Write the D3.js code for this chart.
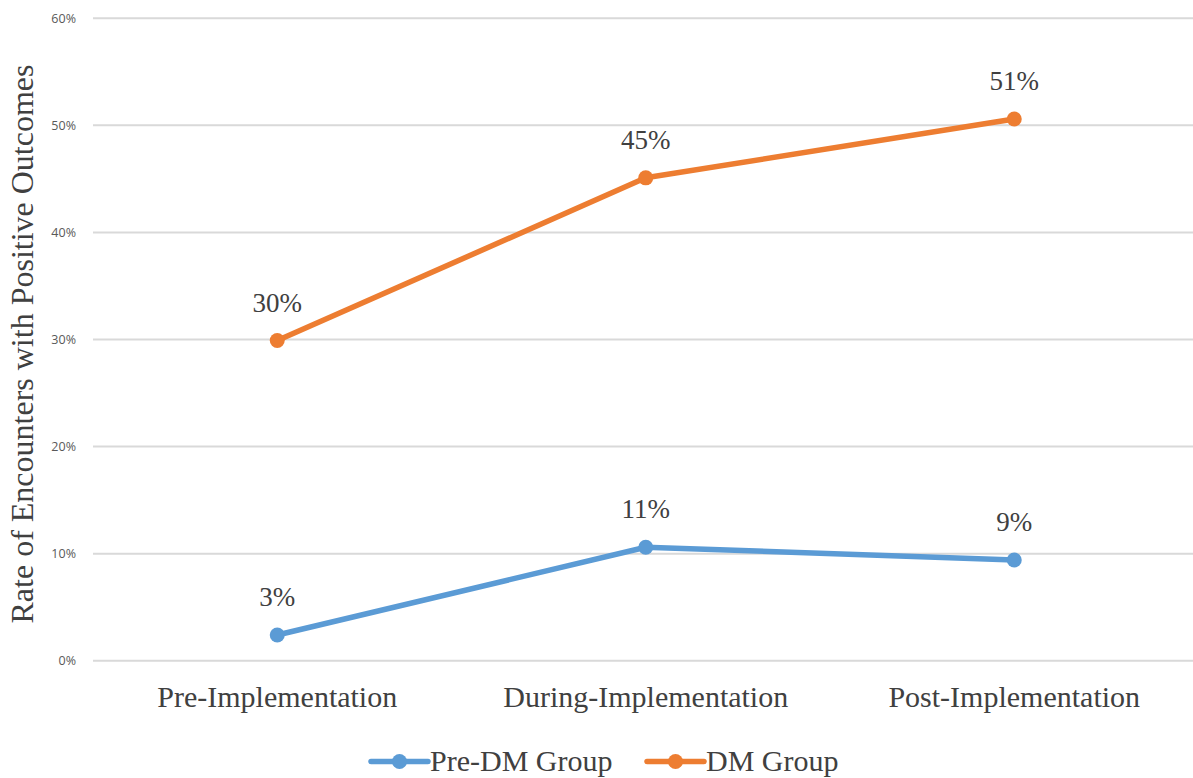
<!DOCTYPE html>
<html>
<head>
<meta charset="utf-8">
<script src="https://cdn.jsdelivr.net/npm/d3@7"></script>
<style>
  html, body { margin: 0; padding: 0; background: #fff; }
  svg { display: block; }
</style>
</head>
<body>
<script>
const categories = ["Pre-Implementation", "During-Implementation", "Post-Implementation"];
const preDM = [0.024, 0.106, 0.094];
const dmGroup = [0.299, 0.451, 0.506];
const preDMLabels = ["3%", "11%", "9%"];
const dmLabels = ["30%", "45%", "51%"];
const yTicks = [0, 0.1, 0.2, 0.3, 0.4, 0.5, 0.6];
const seriesNames = ["Pre-DM Group", "DM Group"];
const colors = ["#5b9bd5", "#ed7d31"];

const W = 1193, H = 778;
const svg = d3.select("body").append("svg").attr("width", W).attr("height", H);

const x = d3.scalePoint().domain(categories).range([93, 1198.5]).padding(0.5);
const y = d3.scaleLinear().domain([0, 0.6]).range([660.7, 18.3]);

const serif = "'Liberation Serif', 'Times New Roman', serif";
const textColor = "#404040";

// gridlines
svg.append("g").selectAll("line").data(yTicks).join("line")
  .attr("x1", 93).attr("x2", W)
  .attr("y1", d => y(d)).attr("y2", d => y(d))
  .attr("stroke", "#d9d9d9").attr("stroke-width", 2);

// y tick labels
svg.append("g").selectAll("text").data(yTicks).join("text")
  .attr("x", 76).attr("y", d => y(d)).attr("dy", "0.35em")
  .attr("text-anchor", "end")
  .attr("font-family", "'Open Sans', sans-serif").attr("font-size", 12.5)
  .attr("fill", "#595959")
  .text(d => d3.format(".0%")(d));

// y axis title
svg.append("text")
  .attr("transform", "translate(33,344) rotate(-90)")
  .attr("text-anchor", "middle")
  .attr("font-family", serif).attr("font-size", 32)
  .attr("fill", textColor)
  .text("Rate of Encounters with Positive Outcomes");

// x category labels
svg.append("g").selectAll("text").data(categories).join("text")
  .attr("x", d => x(d)).attr("y", 707)
  .attr("text-anchor", "middle")
  .attr("font-family", serif).attr("font-size", 30)
  .attr("fill", textColor)
  .text(d => d);

const series = [
  { name: seriesNames[0], values: preDM, labels: preDMLabels, color: colors[0] },
  { name: seriesNames[1], values: dmGroup, labels: dmLabels, color: colors[1] }
];

const line = d3.line().x((d, i) => x(categories[i])).y(d => y(d));

series.forEach(s => {
  const g = svg.append("g");
  g.append("path").datum(s.values)
    .attr("d", line).attr("fill", "none")
    .attr("stroke", s.color).attr("stroke-width", 5.5)
    .attr("stroke-linejoin", "round").attr("stroke-linecap", "round");
  g.selectAll("circle").data(s.values).join("circle")
    .attr("cx", (d, i) => x(categories[i])).attr("cy", d => y(d))
    .attr("r", 7.5).attr("fill", s.color);
  g.selectAll("text").data(s.values).join("text")
    .attr("x", (d, i) => x(categories[i])).attr("y", d => y(d) - 29)
    .attr("text-anchor", "middle")
    .attr("font-family", serif).attr("font-size", 27)
    .attr("fill", textColor)
    .text((d, i) => s.labels[i]);
});

// legend
const legendItems = [
  { name: seriesNames[0], color: colors[0], x0: 371 },
  { name: seriesNames[1], color: colors[1], x0: 647 }
];
const lg = svg.append("g");
legendItems.forEach(it => {
  lg.append("line").attr("x1", it.x0).attr("x2", it.x0 + 57)
    .attr("y1", 761.5).attr("y2", 761.5)
    .attr("stroke", it.color).attr("stroke-width", 5.5).attr("stroke-linecap", "round");
  lg.append("circle").attr("cx", it.x0 + 28.5).attr("cy", 761.5).attr("r", 7.5).attr("fill", it.color);
  lg.append("text").attr("x", it.x0 + 59).attr("y", 771)
    .attr("font-family", serif).attr("font-size", 30)
    .attr("fill", textColor).text(it.name);
});
</script>
</body>
</html>
